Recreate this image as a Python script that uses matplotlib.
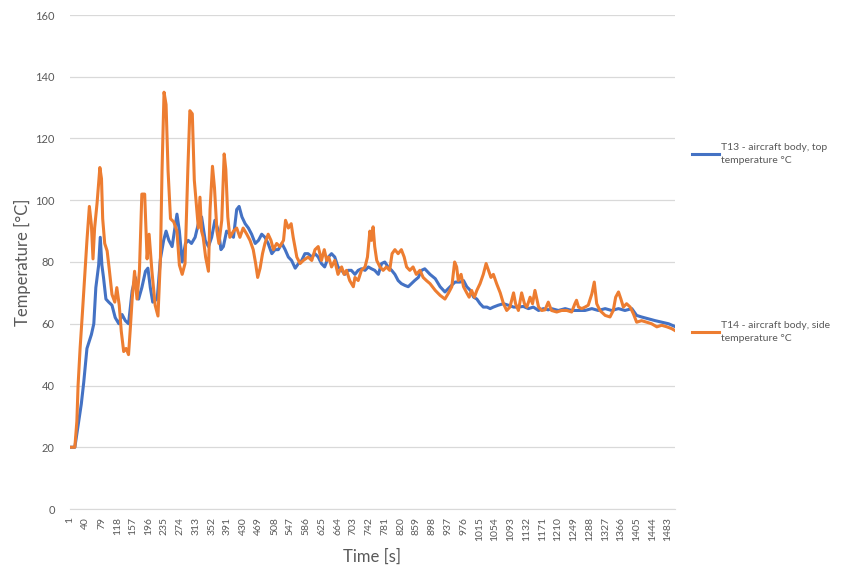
import numpy as np
import matplotlib.pyplot as plt

# readings taken off the reference chart (time in s, temperature in °C)
t13_time = [1, 13, 22, 29, 35, 43, 54, 60, 65, 72, 76, 80, 84, 90, 97, 105, 113, 122, 130, 138,
            146, 155, 163, 171, 179, 188, 194, 200, 206, 217, 225, 233, 239, 246, 254, 266, 272,
            279, 287, 294, 302, 311, 319, 327, 336, 344, 352, 360, 369, 375, 381, 389, 398, 406,
            414, 420, 427, 435, 443, 451, 460, 468, 476, 484, 492, 501, 509, 517, 526, 534, 542,
            550, 559, 567, 575, 583, 591, 600, 608, 616, 624, 632, 641, 649, 657, 665, 674, 682,
            690, 698, 707, 715, 723, 732, 740, 748, 756, 765, 773, 781, 789, 798, 806, 814, 822,
            831, 839, 847, 855, 864, 872, 880, 893, 906, 918, 930, 943, 955, 968, 976, 984, 993,
            1001, 1009, 1017, 1025, 1034, 1042, 1050, 1062, 1075, 1087, 1100, 1112, 1124, 1137,
            1149, 1162, 1174, 1186, 1194, 1211, 1228, 1244, 1261, 1277, 1294, 1310, 1327, 1343,
            1360, 1376, 1393, 1405, 1417, 1434, 1451, 1467, 1484, 1500]
t13_temp = [20, 20, 28, 34, 41, 52, 56.5, 60, 71.7, 79, 88, 79, 75, 68, 67, 66, 62, 60, 63, 61,
            60, 70.7, 75, 68, 71.7, 77, 78, 71.7, 67, 68, 81, 87, 90, 87, 85, 95.5, 90,
            80, 86, 87, 86, 88, 92.4, 94.6, 87, 85, 88, 93.5, 90, 84, 85, 90, 89, 88,
            97, 98, 94.6, 92.4, 91, 89, 86, 87, 89, 88, 86, 82.7, 84, 84, 86, 84, 81.6,
            80.5, 78, 79.5, 80.5, 82.7, 82.7, 81.6, 82.7, 81.6, 79.5, 78.4, 81.6, 82.7, 81.6, 78.4, 77.3, 76,
            77.3, 77.3, 76, 77.3, 77.8, 77.3, 78.4, 77.8, 77.3, 76, 79.5, 80, 78.4, 77.3, 76, 74, 73,
            72.4, 72, 73, 74, 75, 77.3, 77.8, 76, 74.6, 72, 70.3, 72, 73.5, 73.5, 74, 72, 70.8,
            68.6, 68, 66.5, 65.4, 65.4, 64.9, 65.4, 66, 66.5, 66, 65.4, 65.4, 65.6, 64.9,
            65.4, 64.3, 64.9, 64.5, 64.9, 64.3, 64.9, 64.3, 64.3, 64.3, 64.9, 64.3, 64.9, 64.3,
            64.9, 64.3, 64.9, 62.7, 62.2, 61.6, 61, 60.5, 60, 59.1]

t14_time = [1, 13, 18, 21, 26, 32, 39, 43, 49, 54, 58, 62, 68, 75, 79, 82, 87, 93, 98, 105,
            112, 117, 123, 128, 134, 140, 146, 150, 155, 161, 167, 173, 179, 186, 192, 197, 204,
            212, 219, 225, 229, 234, 239, 244, 250, 258, 266, 272, 279, 286, 293, 298, 304, 309,
            315, 319, 323, 327, 331, 337, 344, 348, 354, 359, 365, 370, 377, 383, 387, 392, 397,
            406, 414, 422, 430, 439, 447, 455, 461, 466, 472, 478, 484, 492, 499, 505, 513, 521,
            530, 535, 542, 549, 554, 563, 571, 579, 591, 600, 608, 616, 624, 631, 637, 642, 649,
            657, 665, 674, 680, 686, 694, 703, 707, 715, 723, 732, 738, 744, 748, 752, 756, 761,
            769, 777, 785, 793, 799, 806, 814, 822, 829, 835, 843, 851, 859, 868, 876, 884, 893,
            906, 918, 930, 939, 947, 954, 959, 963, 970, 976, 984, 990, 996, 1003, 1009, 1017,
            1025, 1032, 1038, 1044, 1050, 1058, 1067, 1075, 1083, 1091, 1100, 1105, 1112, 1120,
            1127, 1133, 1141, 1147, 1153, 1162, 1170, 1178, 1186, 1194, 1207, 1219, 1232, 1244,
            1252, 1256, 1261, 1269, 1277, 1285, 1294, 1300, 1306, 1314, 1327, 1339, 1347, 1353,
            1360, 1366, 1372, 1380, 1389, 1397, 1405, 1417, 1430, 1442, 1455, 1467, 1480, 1492, 1500]
t14_temp = [20, 20, 28.4, 40, 52, 64, 79, 87, 98, 92, 81, 91, 99, 110.6, 107, 94, 86, 83.6, 78, 69.5,
            67, 71.7, 66, 57.6, 51, 52, 50, 57.6, 68, 77, 68, 77, 102, 102, 81, 89, 77,
            66, 62.5, 81, 109.5, 135, 131, 109.5, 94, 93, 90, 79, 76, 79.5, 110, 129, 128, 106.5,
            97, 91, 101, 90, 88, 81.6, 77, 97, 111, 104, 90, 86, 93.5, 115, 110, 94.6, 88,
            90, 91, 88, 91, 89, 87, 84, 79.5, 75, 78, 82.7, 86, 89, 87, 84, 86, 85,
            87, 93.5, 91, 92.4, 88, 81.6, 79.5, 80.5, 81.6, 80.5, 84, 85, 80.5, 84, 80.5, 81.6, 78.4,
            80.5, 76, 78.4, 76, 77.3, 74, 72, 75, 74, 77.3, 78.4, 81.6, 90, 87, 91.4, 85, 80.5,
            78.4, 77.3, 78.4, 77.3, 82.7, 84, 82.7, 84, 81.6, 78.4, 77.3, 78.4, 76, 77.3, 75, 74, 73,
            70.8, 69.2, 68, 70, 72, 80, 78.4, 74, 76, 72, 70, 68.6, 70.8, 68.6, 70.8, 73,
            76, 79.5, 77.3, 75, 76, 73, 70, 66.5, 64.3, 65.4, 70, 66.5, 64.3, 70,
            66.5, 65.4, 68.6, 66.5, 70.8, 65.4, 64.3, 64.5, 67, 64.3, 63.8, 64.3, 64.3, 63.8,
            66.5, 67.6, 65.4, 64.9, 65.4, 66, 69.7, 73.5, 66.5, 64.3, 62.7, 62.2, 64.3, 68.6,
            70.3, 68, 65.4, 66.5, 65.4, 63.2, 60.5, 61, 60.5, 60, 59, 59.5, 59, 58.4, 57.8]

x_ticks = list(range(1, 1500, 39))
t13_label = "T13 - aircraft body, top\ntemperature °C"
t14_label = "T14 - aircraft body, side\ntemperature °C"

plt.rcParams['font.family'] = ['Lato', 'DejaVu Sans']
grey = '#595959'

fig = plt.figure(figsize=(8.41, 5.70), dpi=100)
ax = fig.add_axes([70 / 841, 61 / 570, 605 / 841, 494 / 570])

l13, = ax.plot(t13_time, t13_temp, color='#4472C4', lw=2.2)
l14, = ax.plot(t14_time, t14_temp, color='#ED7D31', lw=2.2)

ax.set_xlim(1, 1500)
ax.set_ylim(0, 160)
ax.set_yticks(np.arange(0, 161, 20))
ax.set_xticks(x_ticks)
ax.set_xticklabels([str(v) for v in x_ticks], rotation=90, fontsize=7.5, color=grey)
ax.tick_params(axis='y', labelsize=8, colors=grey, length=0, pad=11)
ax.tick_params(axis='x', length=0, pad=6)
ax.grid(axis='y', color='#d9d9d9', lw=0.9)
ax.set_axisbelow(True)
for s in ['top', 'right', 'left']:
    ax.spines[s].set_visible(False)
ax.spines['bottom'].set_color('#d9d9d9')

ax.set_ylabel('Temperature [°C]', fontsize=12, color=grey)
ax.yaxis.set_label_coords(-0.064, 0.5)
ax.set_xlabel('Time [s]', fontsize=12, color=grey)
ax.xaxis.set_label_coords(0.5, -0.08)

for line, label, ypx in [(l13, t13_label, 154), (l14, t14_label, 332)]:
    leg = fig.legend([line], [label], loc='center left',
                     bbox_to_anchor=(683 / 841, 1 - ypx / 570),
                     frameon=False, fontsize=7.5, handlelength=2.6,
                     handletextpad=0.15, labelcolor=grey)
    for txt in leg.get_texts():
        txt.set_linespacing(1.5)

fig.savefig('out.png', dpi=100)
